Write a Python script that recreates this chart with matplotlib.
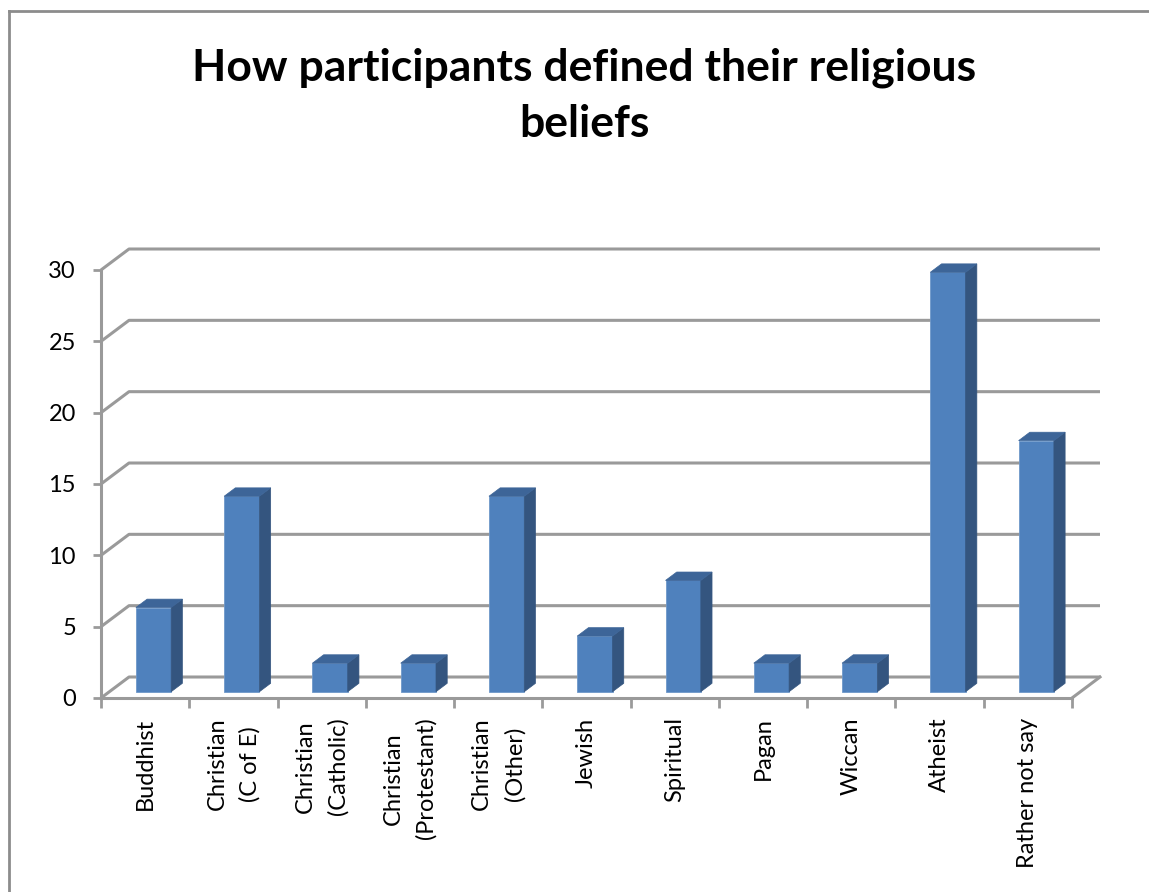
import numpy as np
import matplotlib.pyplot as plt
from matplotlib.lines import Line2D
from matplotlib.patches import Polygon

plt.rcParams['font.family'] = ['Lato', 'DejaVu Sans']

categories = ["Buddhist", "Christian\n(C of E)", "Christian\n(Catholic)",
              "Christian\n(Protestant)", "Christian\n(Other)", "Jewish",
              "Spiritual", "Pagan", "Wiccan", "Atheist", "Rather not say"]
# percent of the 51 participants
percent = [5.9, 13.7, 2.0, 2.0, 13.7, 3.9, 7.8, 2.0, 2.0, 29.4, 17.6]
y_ticks = [0, 5, 10, 15, 20, 25, 30]

FRONT = "#4F81BD"
SIDE = "#34557F"
TOP = "#3D6598"
GRID = "#9A9A9A"

fig = plt.figure(figsize=(11.49, 8.92), dpi=100)
W, H = 1149, 892
ax = fig.add_axes([101 / W, (H - 698) / H, 971 / W, 428 / H])
ax.set_xlim(-0.5, 10.5)
ax.set_ylim(0, 30)

# oblique depth of the floor / back wall in data units
DX, DY = 28 / 88.27, 21 / 14.27
n = len(categories)

# back wall gridlines with the left-wall diagonal
for v in y_ticks:
    ax.plot([-0.5, -0.5 + DX, n - 0.5 + DX], [v, v + DY, v + DY],
            color=GRID, lw=2.2, clip_on=False, zorder=1, solid_capstyle='butt')
# floor right edge
ax.plot([n - 0.5, n - 0.5 + DX], [0, DY], color=GRID, lw=2.2,
        clip_on=False, zorder=1)

# 3d-looking columns: front face, side and top
fx, fy = 0.3 * DX, 0.3 * DY
bx, by = 0.4 * DX, 0.4 * DY
bw = 0.4
x = np.arange(n)
ax.bar(x + fx, percent, width=bw, bottom=fy, color=FRONT, zorder=3,
       edgecolor="#6F98C9", linewidth=0.6)
for i, v in enumerate(percent):
    r = i + fx + bw / 2
    l = i + fx - bw / 2
    side = Polygon([(r, fy), (r, fy + v), (r + bx, fy + v + by), (r + bx, fy + by)],
                   closed=True, facecolor=SIDE, edgecolor=SIDE, lw=0.5,
                   zorder=3, clip_on=False)
    top = Polygon([(l, fy + v), (r, fy + v), (r + bx, fy + v + by), (l + bx, fy + v + by)],
                  closed=True, facecolor=TOP, edgecolor=TOP, lw=0.5,
                  zorder=3, clip_on=False)
    ax.add_patch(side)
    ax.add_patch(top)

for s in ['top', 'right']:
    ax.spines[s].set_visible(False)
for s in ['left', 'bottom']:
    ax.spines[s].set_color(GRID)
    ax.spines[s].set_linewidth(2.2)
    ax.spines[s].set_zorder(2)

ax.set_yticks(y_ticks)
ax.tick_params(axis='y', direction='out', length=6, width=2, color=GRID,
               labelsize=17, pad=12)
ax.set_xticks(np.arange(n + 1) - 0.5)
ax.set_xticklabels([])
ax.tick_params(axis='x', which='major', direction='out', length=7, width=2,
               color=GRID)
ax.set_xticks(x, categories, minor=True)
ax.tick_params(axis='x', which='minor', length=0, labelsize=17, pad=14,
               labelrotation=90)
for t in ax.get_xticklabels(minor=True):
    t.set_multialignment('center')
    t.set_verticalalignment('top')
    t.set_linespacing(1.65)

fig.text(584 / W, 1 - 96 / H, "How participants defined their religious\nbeliefs",
         ha='center', va='center', fontsize=32, fontweight='bold',
         linespacing=1.48)

# chart frame
fig.add_artist(Line2D([9 / W, 9 / W], [0, 1 - 11 / H], color="#8C8C8C", lw=2))
fig.add_artist(Line2D([9 / W, 1], [1 - 11 / H, 1 - 11 / H], color="#8C8C8C", lw=2))

fig.savefig("out.png", dpi=100)
